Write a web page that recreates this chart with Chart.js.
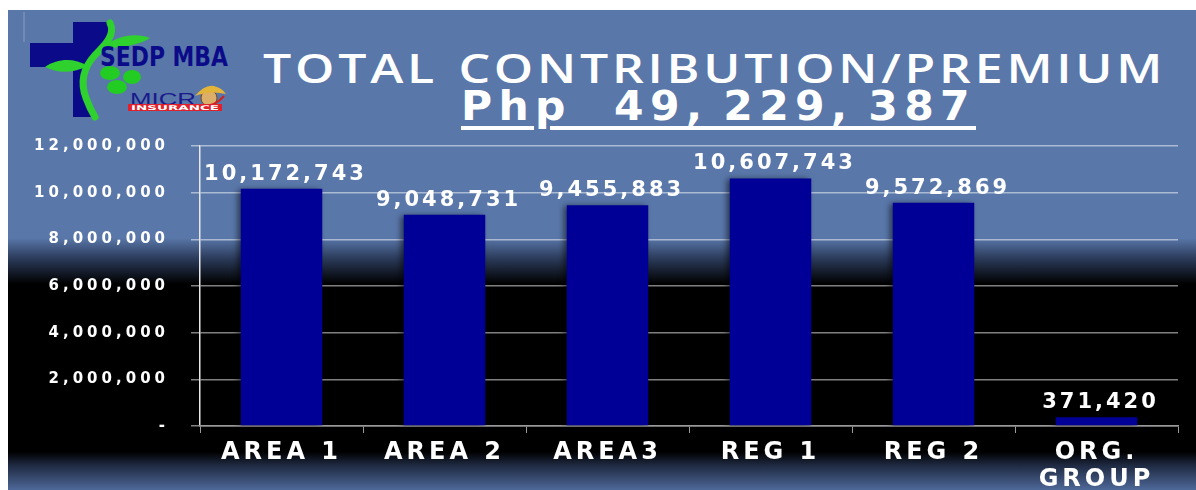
<!DOCTYPE html>
<html>
<head>
<meta charset="utf-8">
<script src="https://cdn.jsdelivr.net/npm/chart.js@4.4.0/dist/chart.umd.min.js"></script>
<style>
  body { margin: 0; background: #fff; width: 1196px; height: 490px; overflow: hidden; position: relative; }
  #slide {
    position: absolute; left: 8px; top: 10px; width: 1188px; height: 480px;
    background: linear-gradient(to bottom, #5977a9 0px, #5977a9 228px, #2c3c5c 248px, #000 274px,
                #000 442px, #1e2940 455px, #4e6899 480px);
  }
  #logo { position: absolute; left: 0; top: 0; }
  .title { position: absolute; color: #fff; white-space: pre; display: inline-block; transform-origin: left top; }
  #t1 { top: 48px; font-family: "Open Sans", sans-serif; font-weight: 600; font-size: 40px; line-height: 40px;
        letter-spacing: 3px; word-spacing: 3px; }
  #t2 { top: 86px; font-family: "DejaVu Sans", sans-serif; font-size: 40px; line-height: 40px; font-weight: bold;
        letter-spacing: 6px; text-decoration: underline; text-decoration-thickness: 4px; text-underline-offset: 6px; }
  #chartBox { position: absolute; left: 8px; top: 115px; width: 1188px; height: 375px; }
</style>
</head>
<body>
<div id="slide"></div>
<svg id="logo" width="240" height="125">
  <line x1="24" y1="12" x2="24" y2="42" stroke="#8c9dc0" stroke-width="1"/>
  <rect x="73" y="22" width="39" height="95" fill="#0b0b8a"/>
  <rect x="30" y="43" width="82" height="24" fill="#0b0b8a"/>
  <path d="M110 23 C 116 35, 104 46, 95 55 C 84 67, 80 82, 86 98 C 89 106, 92 112, 95 117 L 116 117 L 116 20 Z" fill="#5977a9"/>
  <path d="M110 23 C 116 35, 104 46, 95 55 C 84 67, 80 82, 86 98 C 89 106, 92 112, 95 117" stroke="#2ed12e" stroke-width="7" fill="none" stroke-linecap="round"/>
  <path d="M 103 48 C 115 36, 135 32, 150 38 C 140 45, 120 48, 103 48 Z" fill="#2ed12e"/>
  <path d="M 87 66 C 75 58, 58 58, 45 67 C 58 74, 75 73, 87 66 Z" fill="#2ed12e"/>
  <ellipse cx="110" cy="73" rx="10" ry="7" fill="#22cc22"/>
  <ellipse cx="132" cy="77" rx="9" ry="7" fill="#22cc22"/>
  <ellipse cx="117" cy="87" rx="10" ry="7" fill="#22cc22"/>
  <text x="100" y="66" font-family="Liberation Sans Narrow, DejaVu Sans Condensed, sans-serif" font-weight="bold" font-size="26" fill="#0b0b8a" textLength="128" lengthAdjust="spacingAndGlyphs">SEDP MBA</text>
  <text x="130" y="105" font-family="Liberation Sans, sans-serif" font-size="16" fill="#1a1a8c" textLength="66" lengthAdjust="spacingAndGlyphs">MICR</text>
  <circle cx="209" cy="98" r="8" fill="#dcae6a" stroke="#7a4a20" stroke-width="1"/>
  <path d="M 195 96 Q 205 84 214 86 Q 222 88 226 94 Q 210 90 195 96 Z" fill="#e2b43a"/>
  <path d="M 198 106 Q 214 108 224 96" stroke="#d02020" stroke-width="2" fill="none"/>
  <rect x="128" y="104" width="94" height="7" fill="#e0202a"/>
  <text x="131" y="110" font-family="DejaVu Sans, sans-serif" font-size="6.5" font-weight="bold" fill="#fff" textLength="88" lengthAdjust="spacingAndGlyphs">INSURANCE</text>
</svg>
<span class="title" id="t1">TOTAL CONTRIBUTION/PREMIUM</span>
<span class="title" id="t2">Php  49,&#8201;229,&#8201;387</span>
<div id="chartBox"><canvas id="myChart"></canvas></div>

<script>
var categories = ['AREA 1', 'AREA 2', 'AREA3', 'REG 1', 'REG 2', ['ORG.', 'GROUP']];
var values = [10172743, 9048731, 9455883, 10607743, 9572869, 371420];
var yMax = 12000000;
var yStep = 2000000;

// stretch the heading lines to the width they have on the slide
function fitText(id, left, right) {
  var el = document.getElementById(id);
  el.style.left = left + 'px';
  var w = el.getBoundingClientRect().width;
  el.style.transform = 'scaleX(' + ((right - left) / w) + ')';
}
fitText('t1', 263, 1166);
fitText('t2', 461, 976);

// spaced-out lettering like the slide font
const spacing = {
  id: 'spacing',
  beforeLayout(chart) { chart.ctx.letterSpacing = '4px'; },
  beforeDraw(chart) { chart.ctx.letterSpacing = '4px'; }
};

// soft shadow on the bars
const barShadow = {
  id: 'barShadow',
  beforeDatasetsDraw(chart) {
    const c = chart.ctx;
    c.save();
    c.shadowColor = 'rgba(0,0,0,0.55)';
    c.shadowBlur = 6;
    c.shadowOffsetX = -3;
    c.shadowOffsetY = 1;
  },
  afterDatasetsDraw(chart) { chart.ctx.restore(); }
};

// value labels over each bar
const barLabels = {
  id: 'barLabels',
  afterDatasetsDraw(chart) {
    const ctx = chart.ctx;
    const meta = chart.getDatasetMeta(0);
    ctx.save();
    ctx.font = 'bold 21px "DejaVu Sans"';
    ctx.fillStyle = '#fff';
    ctx.textAlign = 'center';
    ctx.textBaseline = 'bottom';
    ctx.letterSpacing = '3px';
    meta.data.forEach(function(bar, i) {
      ctx.fillText(values[i].toLocaleString('en-US'), bar.x + 4, bar.y - 4);
    });
    ctx.restore();
  }
};

const data1 = {
  labels: categories,
  datasets: [{
    data: values,
    backgroundColor: '#000096',
    borderWidth: 0,
    barPercentage: 0.5,
    categoryPercentage: 1
  }]
};

const config = {
  type: 'bar',
  data: data1,
  options: {
    responsive: true,
    maintainAspectRatio: false,
    animation: false,
    layout: { padding: { top: 0, right: 18, bottom: 0, left: 0 } },
    plugins: {
      legend: { display: false },
      tooltip: { enabled: false }
    },
    scales: {
      y: {
        min: 0,
        max: yMax,
        afterFit: function(scale) { scale.width = 192; },
        ticks: {
          stepSize: yStep,
          color: '#fff',
          padding: 22,
          font: { family: 'DejaVu Sans', weight: 'bold', size: 15 },
          callback: function(v) { return v === 0 ? '-' : v.toLocaleString('en-US'); }
        },
        grid: { color: 'rgba(255,255,255,0.5)', tickLength: 9, lineWidth: 1.5 },
        border: { color: '#e8e8e8', width: 1.5 }
      },
      x: {
        afterFit: function(scale) { scale.height = 64; },
        ticks: {
          color: '#fff',
          padding: 7,
          maxRotation: 0,
          autoSkip: false,
          font: { family: 'DejaVu Sans', weight: 'bold', size: 24, lineHeight: 1.1 }
        },
        grid: { display: true, drawOnChartArea: false, offset: true, tickLength: 7, color: '#9a9a9a' },
        border: { color: '#9a9a9a', width: 1.5 }
      }
    }
  },
  plugins: [spacing, barShadow, barLabels]
};

const myChart = new Chart(document.getElementById('myChart'), config);
</script>
</body>
</html>
